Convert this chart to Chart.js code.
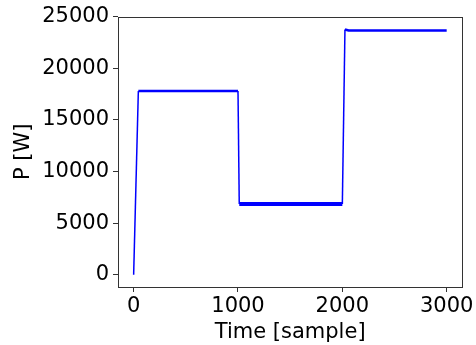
<!DOCTYPE html>
<html>
<head>
<meta charset="utf-8">
<script src="https://cdn.jsdelivr.net/npm/chart.js@4.4.1/dist/chart.umd.min.js"></script>
<style>
  html, body { margin: 0; padding: 0; background: #ffffff; }
  #wrap { width: 476px; height: 345px; position: relative; }
</style>
</head>
<body>
<div id="wrap"><canvas id="c" width="476" height="345"></canvas></div>
<script>
// ---- data ----
const timeSamples = [0, 45, 1000, 1012, 2000, 2025, 2060, 3000];
const powerWatts  = [0, 17800, 17800, 6850, 6850, 23750, 23650, 23650];
const xTickValues = [0, 1000, 2000, 3000];
const yTickValues = [0, 5000, 10000, 15000, 20000, 25000];
const xAxisTitle = 'Time [sample]';
const yAxisTitle = 'P [W]';

// ---- styles ----
const segmentWidths = [1.5, 2.5, 1.5, 4, 1.5, 2.5, 2.5];
const FONT = 'DejaVu Sans';

const points = timeSamples.map((t, i) => ({ x: t, y: powerWatts[i] }));

const frame = {
  id: 'frame',
  afterDraw(chart) {
    const a = chart.chartArea, ctx = chart.ctx;
    ctx.save();
    ctx.strokeStyle = '#333333';
    ctx.lineWidth = 1;
    ctx.strokeRect(Math.round(a.left) + 0.5, Math.round(a.top) + 0.5,
                   Math.round(a.right - a.left), Math.round(a.bottom - a.top));
    ctx.restore();
  }
};

new Chart(document.getElementById('c'), {
  type: 'line',
  data: {
    datasets: [{
      data: points,
      borderColor: '#0000ff',
      borderWidth: 2.5,
      pointRadius: 0,
      tension: 0,
      fill: false,
      segment: { borderWidth: ctx => segmentWidths[ctx.p0DataIndex] }
    }]
  },
  options: {
    responsive: false,
    animation: false,
    events: [],
    layout: { padding: { left: 0, top: 16, right: 13, bottom: 0 } },
    plugins: { legend: { display: false }, tooltip: { enabled: false } },
    scales: {
      x: {
        type: 'linear',
        min: -150, max: 3150,
        afterBuildTicks: s => { s.ticks = xTickValues.map(v => ({ value: v })); },
        afterFit: s => { s.height = 58; },
        border: { display: false },
        grid: { drawOnChartArea: false, tickLength: 5, tickColor: '#333333', tickWidth: 1 },
        ticks: { color: '#000000', font: { family: FONT, size: 21 }, padding: 2, maxRotation: 0, callback: v => String(v) },
        title: { display: true, text: xAxisTitle, color: '#000000', font: { family: FONT, size: 21 }, padding: { top: 0, bottom: 0 } }
      },
      y: {
        type: 'linear',
        min: -1190, max: 25000,
        afterBuildTicks: s => { s.ticks = yTickValues.map(v => ({ value: v })); },
        afterFit: s => { s.width = 118; },
        border: { display: false },
        grid: { drawOnChartArea: false, tickLength: 5, tickColor: '#333333', tickWidth: 1 },
        ticks: { color: '#000000', font: { family: FONT, size: 21 }, padding: 4, callback: v => String(v) },
        title: { display: true, text: yAxisTitle, color: '#000000', font: { family: FONT, size: 21 }, padding: 11 }
      }
    }
  },
  plugins: [frame]
});
</script>
</body>
</html>
